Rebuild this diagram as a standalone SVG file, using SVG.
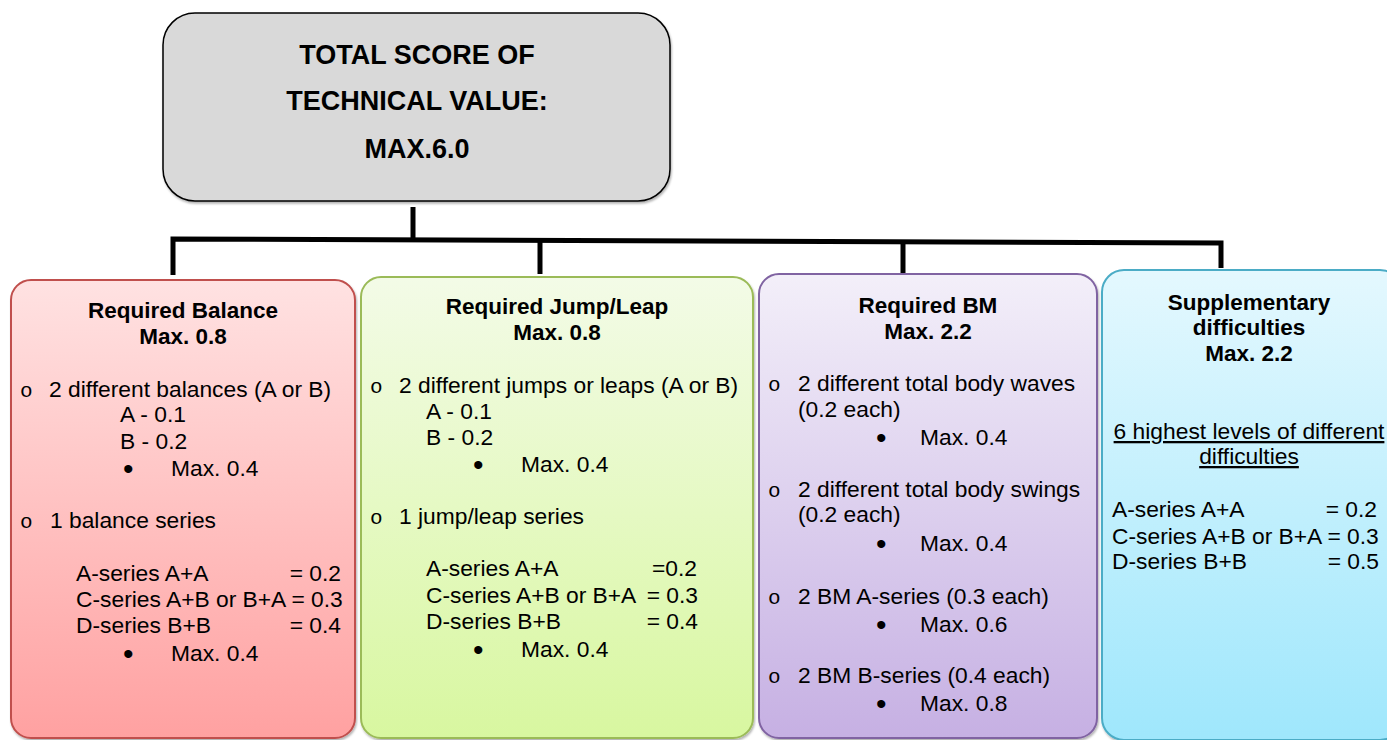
<svg xmlns="http://www.w3.org/2000/svg" width="1387" height="740" viewBox="0 0 1387 740">
<defs>
<linearGradient id="gRed" x1="0" y1="0" x2="0" y2="1"><stop offset="0" stop-color="#ffe2e2"/><stop offset="1" stop-color="#ffa1a1"/></linearGradient>
<linearGradient id="gGreen" x1="0" y1="0" x2="0" y2="1"><stop offset="0" stop-color="#f3fbe7"/><stop offset="1" stop-color="#d8f7a0"/></linearGradient>
<linearGradient id="gPurple" x1="0" y1="0" x2="0" y2="1"><stop offset="0" stop-color="#f3eff9"/><stop offset="1" stop-color="#c6b0e3"/></linearGradient>
<linearGradient id="gBlue" x1="0" y1="0" x2="0" y2="1"><stop offset="0" stop-color="#e4f8fe"/><stop offset="1" stop-color="#9fe7fc"/></linearGradient>
<filter id="sh" x="-5%" y="-5%" width="110%" height="110%"><feDropShadow dx="1" dy="2" stdDeviation="1.2" flood-color="#000" flood-opacity="0.3"/></filter>
</defs>
<style>
text{font-family:"Liberation Sans",Arial,sans-serif;font-size:22.8px;fill:#000}
.b{font-weight:bold;font-size:22.5px}
.t{font-weight:bold;font-size:27px}
.c{text-anchor:middle}
.e{text-anchor:end}
.o{font-family:"Liberation Mono","Courier New",monospace;font-size:21px}
.d{font-size:30px}
.u{text-decoration:underline}
.conn{stroke:#000;stroke-width:5;fill:none}
</style>
<g id="connectors">
<line class="conn" x1="413" y1="207" x2="413" y2="242"/>
<polyline class="conn" points="173,275 173,239 1221,243 1221,268"/>
<line class="conn" x1="540" y1="241" x2="540" y2="274"/>
<line class="conn" x1="903" y1="242" x2="903" y2="273"/>
</g>
<g id="root">
<rect x="163" y="13" width="507" height="188" rx="32" fill="#d9d9d9" stroke="#000" stroke-width="1.5" filter="url(#sh)"/>
<text class="t c" x="417" y="64">TOTAL SCORE OF</text>
<text class="t c" x="417" y="110">TECHNICAL VALUE:</text>
<text class="t c" x="417" y="158">MAX.6.0</text>
</g>
<g id="balance">
<rect x="11" y="280" width="344" height="458" rx="20" fill="url(#gRed)" stroke="#c0504d" stroke-width="2" filter="url(#sh)"/>
<text class="b c" x="183" y="318">Required Balance</text>
<text class="b c" x="183" y="344">Max. 0.8</text>
<text class="o" x="20" y="397">o</text>
<text x="49" y="397">2 different balances (A or B)</text>
<text x="120" y="422">A - 0.1</text>
<text x="120" y="449">B - 0.2</text>
<text class="d" x="123" y="479">•</text>
<text x="171" y="476">Max. 0.4</text>
<text class="o" x="20" y="528">o</text>
<text x="50" y="528">1 balance series</text>
<text x="76" y="581">A-series A+A</text>
<text class="e" x="341" y="581">= 0.2</text>
<text x="76" y="607">C-series A+B or B+A = 0.3</text>
<text x="76" y="633">D-series B+B</text>
<text class="e" x="341" y="633">= 0.4</text>
<text class="d" x="123" y="664">•</text>
<text x="171" y="661">Max. 0.4</text>
</g>
<g id="jump">
<rect x="361" y="277" width="392" height="461" rx="20" fill="url(#gGreen)" stroke="#9bbb59" stroke-width="2" filter="url(#sh)"/>
<text class="b c" x="557" y="314">Required Jump/Leap</text>
<text class="b c" x="557" y="340">Max. 0.8</text>
<text class="o" x="370" y="393">o</text>
<text x="399" y="393">2 different jumps or leaps (A or B)</text>
<text x="426" y="419">A - 0.1</text>
<text x="426" y="445">B - 0.2</text>
<text class="d" x="473" y="475">•</text>
<text x="521" y="472">Max. 0.4</text>
<text class="o" x="370" y="524">o</text>
<text x="399" y="524">1 jump/leap series</text>
<text x="426" y="576">A-series A+A</text>
<text class="e" x="697" y="576">=0.2</text>
<text x="426" y="603">C-series A+B or B+A</text>
<text class="e" x="698" y="603">= 0.3</text>
<text x="426" y="629">D-series B+B</text>
<text class="e" x="698" y="629">= 0.4</text>
<text class="d" x="473" y="660">•</text>
<text x="521" y="657">Max. 0.4</text>
</g>
<g id="bm">
<rect x="759" y="274" width="338" height="464" rx="20" fill="url(#gPurple)" stroke="#8064a2" stroke-width="2" filter="url(#sh)"/>
<text class="b c" x="928" y="313">Required BM</text>
<text class="b c" x="928" y="339">Max. 2.2</text>
<text class="o" x="768" y="391">o</text>
<text x="798" y="391">2 different total body waves</text>
<text x="798" y="417">(0.2 each)</text>
<text class="d" x="876" y="448">•</text>
<text x="920" y="445">Max. 0.4</text>
<text class="o" x="768" y="497">o</text>
<text x="798" y="497">2 different total body swings</text>
<text x="798" y="522">(0.2 each)</text>
<text class="d" x="876" y="554">•</text>
<text x="920" y="551">Max. 0.4</text>
<text class="o" x="768" y="604">o</text>
<text x="798" y="604">2 BM A-series (0.3 each)</text>
<text class="d" x="876" y="635">•</text>
<text x="920" y="632">Max. 0.6</text>
<text class="o" x="768" y="683">o</text>
<text x="798" y="683">2 BM B-series (0.4 each)</text>
<text class="d" x="876" y="714">•</text>
<text x="920" y="711">Max. 0.8</text>
</g>
<g id="supplementary">
<rect x="1102" y="270" width="300" height="470" rx="22" fill="url(#gBlue)" stroke="#4bacc6" stroke-width="2" filter="url(#sh)"/>
<text class="b c" x="1249" y="310">Supplementary</text>
<text class="b c" x="1249" y="335">difficulties</text>
<text class="b c" x="1249" y="361">Max. 2.2</text>
<text class="c u" x="1249" y="439">6 highest levels of different</text>
<text class="c u" x="1249" y="464">difficulties</text>
<text x="1112" y="517">A-series A+A</text>
<text class="e" x="1377" y="517">= 0.2</text>
<text x="1112" y="544">C-series A+B or B+A = 0.3</text>
<text x="1112" y="569">D-series B+B</text>
<text class="e" x="1379" y="569">= 0.5</text>
</g>
</svg>
